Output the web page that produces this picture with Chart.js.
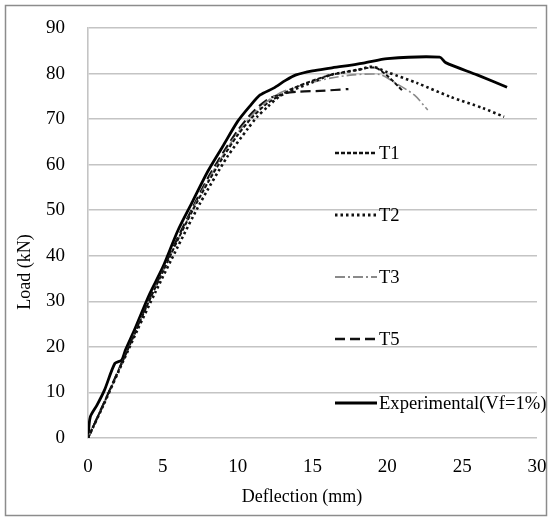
<!DOCTYPE html>
<html>
<head>
<meta charset="utf-8">
<script src="https://cdn.jsdelivr.net/npm/chart.js@4.4.1/dist/chart.umd.min.js"></script>
<style>
  html, body { margin: 0; padding: 0; background: #fff; }
  #grafico { display: block; }
</style>
</head>
<body>
<canvas id="grafico" width="552" height="519"></canvas>
<script>
// === Datos (deflexión en mm, carga en kN) ===
const ticksX = [0, 5, 10, 15, 20, 25, 30];
const ticksY = [0, 10, 20, 30, 40, 50, 60, 70, 80, 90];

const nombres = ["T1", "T2", "T3", "T5", "Experimental(Vf=1%)"];

const t1Def = [0, 1, 2, 3, 4, 5, 6, 7, 8, 9, 10, 11, 12, 13, 14, 16, 18, 19.2, 20, 21];
const t1Carga = [0, 7.2, 14.5, 22, 29.5, 36.5, 43.5, 50, 56, 61.5, 66.5, 70.5, 73.5, 75.5, 77.2, 79.5, 80.8, 81.3, 79.5, 76.3];

const t2Def = [0, 1, 2, 3.3, 4.5, 6, 7.5, 9.3, 10.7, 11.3, 12, 12.8, 13.7, 15, 16.2, 18, 19, 20, 22, 24.2, 26.4, 27.8];
const t2Carga = [0, 7, 14.3, 23.7, 32, 42, 51.6, 61.7, 68, 70.5, 72.7, 75, 76.4, 78.1, 79.7, 80.8, 81.5, 80.3, 77.9, 74.9, 72.4, 70.5];

const t3Def = [0, 1, 2, 3, 4, 5, 6, 7, 8, 9, 10, 11, 12, 13, 14.8, 16.2, 17.7, 19.5, 20.5, 21.8, 22.7];
const t3Carga = [0, 7.1, 14.4, 22, 29.5, 36.5, 43.5, 50.3, 56.5, 62, 67, 71, 74, 76, 77.9, 79, 79.7, 79.8, 78, 75.3, 72];

const t5Def = [0, 1, 2, 3, 4, 5, 6, 7, 8, 9, 10, 11, 12, 13, 14, 15.5, 17.4];
const t5Carga = [0, 7.2, 14.6, 22.2, 29.8, 37, 44, 50.6, 57, 62.5, 67.5, 71.5, 74.3, 75.6, 76, 76.2, 76.6];

const expDef = [0, 0.15, 0.6, 1.1, 1.8, 2.25, 2.5, 3.1, 4.1, 5, 6, 7, 8, 9, 10, 10.8, 11.5, 12.4, 13.2, 13.9, 15, 16.2, 18.4, 20, 23.5, 23.9, 26, 28];
const expCarga = [0, 4.6, 7.2, 10.5, 16.4, 17.1, 19.3, 23.7, 31.5, 37.5, 45.5, 52, 58.5, 64, 69.5, 72.8, 75.3, 76.8, 78.5, 79.7, 80.6, 81.2, 82.3, 83.3, 83.6, 82.4, 79.7, 77];

const fuente = "'Liberation Serif', 'DejaVu Serif', serif";
const colorTexto = "#000";
const colorGrilla = "#c4c4c4";

function puntos(xs, ys) {
  return xs.map((x, i) => ({ x, y: ys[i] }));
}

// === Estilos de cada serie ===
const estilos = [
  { color: "#111", ancho: 2, guion: [4, 2] },
  { color: "#111", ancho: 2.6, guion: [2.5, 3] },
  { color: "#8a8a8a", ancho: 1.6, guion: [10, 3, 2, 3] },
  { color: "#111", ancho: 2.2, guion: [10, 5] },
  { color: "#000", ancho: 2.8, guion: [] }
];

const series = [
  puntos(t1Def, t1Carga),
  puntos(t2Def, t2Carga),
  puntos(t3Def, t3Carga),
  puntos(t5Def, t5Carga),
  puntos(expDef, expCarga)
];

const datasets = series.map((datos, i) => ({
  label: nombres[i],
  data: datos,
  borderColor: estilos[i].color,
  borderWidth: estilos[i].ancho,
  borderDash: estilos[i].guion,
  pointRadius: 0,
  fill: false,
  tension: 0.25
}));

// === Marco exterior y fondo ===
const marco = {
  id: "marco",
  beforeDraw(chart) {
    const c = chart.ctx;
    c.save();
    c.fillStyle = "#fff";
    c.fillRect(0, 0, chart.width, chart.height);
    c.strokeStyle = "#8c8c8c";
    c.lineWidth = 1.5;
    c.strokeRect(5.5, 5.5, chart.width - 11, chart.height - 9);
    c.restore();
  }
};

// === Títulos de ejes ===
const titulos = {
  id: "titulos",
  afterDraw(chart) {
    const c = chart.ctx;
    c.save();
    c.fillStyle = colorTexto;
    c.font = "18px " + fuente;
    c.textAlign = "center";
    c.textBaseline = "middle";
    c.fillText("Deflection (mm)", 302, 497);
    c.translate(25, 272);
    c.rotate(-Math.PI / 2);
    c.fillText("Load (kN)", 0, 0);
    c.restore();
  }
};

// === Leyenda dentro del área del gráfico ===
const leyenda = {
  id: "leyenda",
  afterDatasetsDraw(chart) {
    const c = chart.ctx;
    const posY = [153, 215, 277, 339, 403];
    c.save();
    chart.data.datasets.forEach((ds, i) => {
      const y = posY[i];
      c.beginPath();
      c.strokeStyle = ds.borderColor;
      c.lineWidth = ds.borderWidth + 0.4;
      c.setLineDash(ds.borderDash);
      c.moveTo(335, y);
      c.lineTo(377, y);
      c.stroke();
      c.setLineDash([]);
      c.fillStyle = colorTexto;
      c.font = "18.6px " + fuente;
      c.textAlign = "left";
      c.textBaseline = "middle";
      c.fillText(ds.label, 379, y + 1);
    });
    c.restore();
  }
};

new Chart(document.getElementById("grafico"), {
  type: "line",
  data: { datasets },
  plugins: [marco, leyenda, titulos],
  options: {
    responsive: false,
    animation: false,
    devicePixelRatio: 1,
    layout: { padding: { top: 28, right: 15, left: 0, bottom: 0 } },
    plugins: {
      legend: { display: false },
      tooltip: { enabled: false }
    },
    scales: {
      x: {
        type: "linear",
        min: 0,
        max: 30,
        afterBuildTicks: (eje) => { eje.ticks = ticksX.map(v => ({ value: v })); },
        afterFit: (eje) => {
          eje.height = 81;
          eje.paddingLeft = 0;
          eje.paddingRight = 0;
        },
        grid: { display: false, drawTicks: false },
        border: { display: false },
        ticks: {
          padding: 18,
          color: colorTexto,
          font: { family: fuente, size: 19 },
          maxRotation: 0
        }
      },
      y: {
        min: 0,
        max: 90,
        afterBuildTicks: (eje) => { eje.ticks = ticksY.map(v => ({ value: v })); },
        afterFit: (eje) => {
          eje.width = 88;
          eje.paddingTop = 0;
          eje.paddingBottom = 0;
        },
        grid: { color: colorGrilla, lineWidth: 1.6, drawTicks: false },
        border: { display: true, color: colorGrilla, width: 1.6 },
        ticks: {
          padding: 23,
          color: colorTexto,
          font: { family: fuente, size: 19 }
        }
      }
    }
  }
});
</script>
</body>
</html>
